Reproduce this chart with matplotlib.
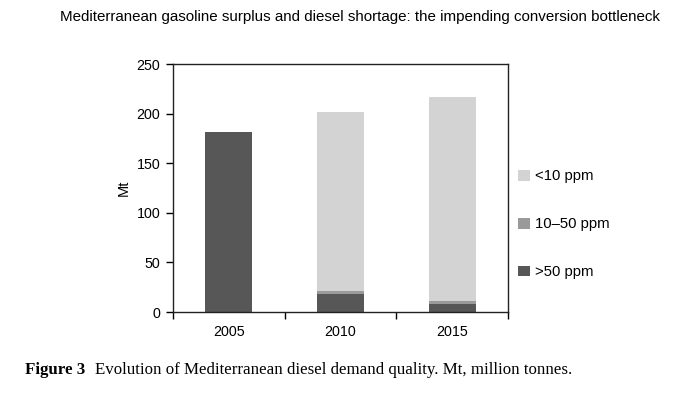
import matplotlib
matplotlib.use("Agg")
import matplotlib.pyplot as plt
import numpy as np

years = ["2005", "2010", "2015"]
above50 = [181, 18, 8.5]
mid10_50 = [0, 3, 3]
below10 = [0, 181, 205.5]
series_labels = [">50 ppm", "10\u201350 ppm", "<10 ppm"]
colors = ["#575757", "#9a9a9a", "#d3d3d3"]

plt.rcParams['font.family'] = ['Liberation Sans', 'DejaVu Sans']

fig = plt.figure(figsize=(6.73, 4.0), dpi=100)
ax = fig.add_axes([173/673, 1-312/400, (508-173)/673, (312-64)/400])

x = np.arange(len(years))
w = 0.42
b1 = ax.bar(x, above50, w, color=colors[0], label=series_labels[0])
b2 = ax.bar(x, mid10_50, w, bottom=above50, color=colors[1], label=series_labels[1])
bottom3 = np.array(above50) + np.array(mid10_50)
b3 = ax.bar(x, below10, w, bottom=bottom3, color=colors[2], label=series_labels[2])

ax.set_xlim(-0.5, 2.5)
ax.set_ylim(0, 250)
ax.set_yticks(np.arange(0, 251, 50))
ax.set_xticks(x)
ax.set_xticklabels(years)
ax.set_xticks(np.arange(-0.5, 2.6, 1), minor=True)
ax.tick_params(axis='x', which='major', length=0, pad=9, labelsize=10.3)
ax.tick_params(axis='x', which='minor', length=5, direction='out', width=1)
ax.tick_params(axis='y', length=5, direction='out', width=1, labelsize=10.3, pad=4)
for s in ax.spines.values():
    s.set_linewidth(1)
    s.set_color('#222222')
ax.set_ylabel("Mt", fontsize=10.5, labelpad=4)

handles = [b3, b2, b1]
leg = fig.legend(handles, [h.get_label() for h in handles], loc='upper left',
                 bbox_to_anchor=(505/673, 1-156/400), frameon=False,
                 handlelength=0.75, handleheight=0.75, handletextpad=0.4,
                 labelspacing=2.28, fontsize=10.7)

fig.text(360.5/673, 1-17/400, "Mediterranean gasoline surplus and diesel shortage: the impending conversion bottleneck",
         ha='center', va='center', fontsize=10.9)

fig.text(25/673, 1-370/400, "Figure 3", ha='left', va='center', fontsize=12.2,
         family='Liberation Serif', weight='bold')
fig.text(95/673, 1-370/400, "Evolution of Mediterranean diesel demand quality. Mt, million tonnes.",
         ha='left', va='center', fontsize=12.2, family='Liberation Serif')

fig.savefig("out.png", dpi=100)
